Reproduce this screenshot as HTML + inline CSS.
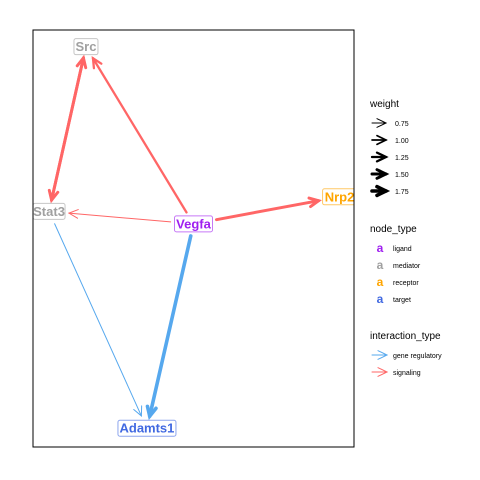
<!DOCTYPE html>
<html><head><meta charset="utf-8"><style>
body{margin:0;background:#fff;}
svg{display:block;font-family:"Liberation Sans",sans-serif;}
</style></head><body>
<svg width="480" height="480" viewBox="0 0 480 480">
<defs><clipPath id="pc"><rect x="33" y="30" width="321" height="417"/></clipPath></defs>
<rect x="0" y="0" width="480" height="480" fill="#fff"/>
<g id="plot" clip-path="url(#pc)"></g>
<rect x="33" y="30" width="321" height="417" fill="none" stroke="#000" stroke-width="1"/>
<g id="legend"></g>
</svg>
<script>
const nodeNames=["Src","Stat3","Vegfa","Nrp2","Adamts1"];
const nodeTypes=["mediator","mediator","ligand","receptor","target"];
const nodeX=[0.165,0.05,0.5,0.955,0.355];
const nodeY=[0.96,0.565,0.535,0.6,0.045];
const edgeFrom=["Stat3","Src","Vegfa","Vegfa","Vegfa","Vegfa","Stat3"];
const edgeTo=["Src","Stat3","Src","Stat3","Nrp2","Adamts1","Adamts1"];
const edgeWeight=[1.5,1.5,1.25,0.75,1.5,1.75,0.75];
const edgeType=["signaling","signaling","signaling","signaling","signaling","gene regulatory","gene regulatory"];
const weightLevels=[0.75,1.0,1.25,1.5,1.75];
const weightLabels=["0.75","1.00","1.25","1.50","1.75"];
const typeColors={ligand:"#A020F0",mediator:"#A0A0A0",receptor:"#FFA500",target:"#4169E1"};
const edgeColors={"signaling":"#FF6666","gene regulatory":"#56A8EE"};
const NS="http://www.w3.org/2000/svg";
const px=v=>33+v*321, py=v=>447-v*417;
const lw=w=>1.0+(w-0.75)*2.6;
const plot=document.getElementById('plot');
function mk(t,a,p){const e=document.createElementNS(NS,t);for(const k in a)e.setAttribute(k,a[k]);(p||plot).appendChild(e);return e;}
function arrow(g,x1,y1,x2,y2,col,w){
  const a=Math.atan2(y2-y1,x2-x1),L=10,s=0.45;
  mk('line',{x1,y1,x2,y2,stroke:col,'stroke-width':w,'stroke-linecap':'round'},g);
  mk('polyline',{points:`${x2-L*Math.cos(a-s)},${y2-L*Math.sin(a-s)} ${x2},${y2} ${x2-L*Math.cos(a+s)},${y2-L*Math.sin(a+s)}`,fill:'none',stroke:col,'stroke-width':w,'stroke-linejoin':'miter','stroke-linecap':'round'},g);
}
const halfW=[13,17,20,18,30],halfH=8;
function shorten(i,j){
  const x1=px(nodeX[i]),y1=py(nodeY[i]),x2=px(nodeX[j]),y2=py(nodeY[j]);
  const dx=x2-x1,dy=y2-y1;
  const t1=Math.min(halfW[i]/Math.abs(dx||1e-9),halfH/Math.abs(dy||1e-9))+0.02;
  const t2=Math.min(halfW[j]/Math.abs(dx||1e-9),halfH/Math.abs(dy||1e-9))+0.02;
  return [x1+dx*t1,y1+dy*t1,x2-dx*t2,y2-dy*t2];
}
edgeFrom.forEach((f,k)=>{
  const i=nodeNames.indexOf(f),j=nodeNames.indexOf(edgeTo[k]);
  const g=mk('g',{});
  
  
  const [a,b,c,d]=shorten(i,j);
  arrow(g,a,b,c,d,edgeColors[edgeType[k]],lw(edgeWeight[k]));
});
nodeNames.forEach((n,i)=>{
  const x=px(nodeX[i]),y=py(nodeY[i]),col=typeColors[nodeTypes[i]];
  const g=mk('g',{});
  
  
  mk('rect',{x:x-halfW[i]+1,y:y-halfH,width:2*halfW[i]-2,height:2*halfH,rx:2,fill:'#fff',stroke:col,'stroke-opacity':0.6,'stroke-width':1},g);
  const t=mk('text',{x,y:y+4.5,'text-anchor':'middle','font-size':13,'font-weight':'bold',fill:col},g);
  t.textContent=n;
});
const lg=document.getElementById('legend');
function txt(x,y,s,sz,p){const t=mk('text',{x,y,'font-size':sz,fill:'#000'},p);t.textContent=s;return t;}
let t=txt(370,107,'weight',10,lg);
weightLevels.forEach((w,k)=>{
  const y=123+k*17;const g=mk('g',{},lg);
  
  arrow(g,372,y,386,y,'#000',lw(w));txt(395,y+3,weightLabels[k],7,g);
});
t=txt(370,232,'node_type',10,lg);
["ligand","mediator","receptor","target"].forEach((n,k)=>{
  const y=248+k*17;const g=mk('g',{},lg);
  
  const a=mk('text',{x:380,y:y+4,'text-anchor':'middle','font-size':12,'font-weight':'bold',fill:typeColors[n]},g);a.textContent='a';
  txt(393,y+3,n,7,g);
});
t=txt(370,339,'interaction_type',10,lg);
["gene regulatory","signaling"].forEach((n,k)=>{
  const y=355+k*17;const g=mk('g',{},lg);
  
  arrow(g,372,y,387,y,edgeColors[n],1);txt(393,y+3,n,7,g);
});
</script>
</body></html>
